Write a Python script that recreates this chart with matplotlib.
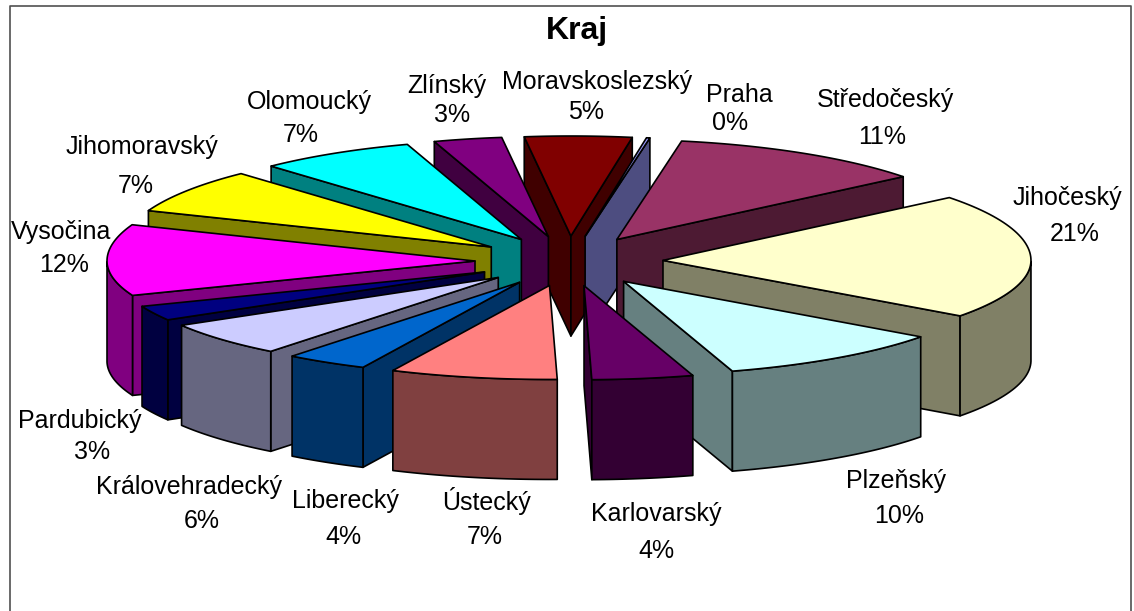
import numpy as np
import matplotlib
matplotlib.use("Agg")
import matplotlib.pyplot as plt
from matplotlib.colors import to_rgb
from matplotlib.patches import Polygon

plt.rcParams["font.family"] = ["Liberation Sans", "DejaVu Sans"]

# data, clockwise from the top of the pie
regions = ["Praha", "Středočeský", "Jihočeský", "Plzeňský", "Karlovarský", "Ústecký", "Liberecký",
           "Královehradecký", "Pardubický", "Vysočina", "Jihomoravský", "Olomoucký", "Zlínský",
           "Moravskoslezský"]
shares = [0.15, 11.4, 20.9, 10.2, 4.45, 7.35, 3.62, 5.9, 2.55, 11.9, 7.2, 6.9, 3.0, 4.7]
colors = ["#9999FF", "#993366", "#FFFFCC", "#CCFFFF", "#660066", "#FF8080", "#0066CC",
          "#CCCCFF", "#000080", "#FF00FF", "#FFFF00", "#00FFFF", "#800080", "#800000"]

# label anchors in pixels, name and percentage are placed apart
name_xy = [(739, 95), (885, 100), (1067, 198), (896, 481), (656, 514), (487, 501), (345, 501),
           (189, 487), (80, 421), (61, 232), (142, 147), (309, 102), (447, 86), (597, 82)]
pct_xy = [(730, 123), (882, 137), (1075, 234), (899, 516), (656, 551), (485, 537), (343, 537),
          (202, 521), (92, 452), (64, 265), (136, 186), (301, 135), (452, 115), (586, 112)]

# pie geometry in pixels
cx, cy = 569, 261
rx, ry_back, ry_front = 368, 100, 94
explode_x, explode_y = 94, 25
depth = 100
start = 9.6

fig = plt.figure(figsize=(11.34, 6.11), dpi=100)
ax = fig.add_axes([0, 0, 1, 1])
ax.set_xlim(0, 1134)
ax.set_ylim(611, 0)
ax.axis("off")


def rim(ox, oy, deg):
    a = np.radians(deg)
    ry = ry_back if np.cos(a) > 0 else ry_front
    return ox + rx * np.sin(a), oy - ry * np.cos(a)


def side_color(c):
    return tuple(v * 0.5 for v in to_rgb(c))


def draw_slice(t0, t1, col):
    mid = np.radians((t0 + t1) / 2)
    ox = cx + explode_x * np.sin(mid)
    oy = cy - explode_y * np.cos(mid)
    angs = np.linspace(t0, t1, 60)
    arc = np.array([rim(ox, oy, a) for a in angs])
    side = side_color(col)

    # radial cut faces, only those turned to the viewer
    for p, inner in ((arc[0], arc[-1]), (arc[-1], arc[0])):
        ex, ey = p[0] - ox, p[1] - oy
        nx, ny = -ey, ex
        if nx * (inner[0] - ox) + ny * (inner[1] - oy) > 0:
            nx, ny = -nx, -ny
        if ny > 0:
            face = [(ox, oy), p, (p[0], p[1] + depth), (ox, oy + depth)]
            ax.add_patch(Polygon(face, fc=side, ec="black", lw=1.2, joinstyle="round"))

    # outer wall, front half only
    a = np.mod(angs, 360)
    front = (a >= 90) & (a <= 270)
    if front.any():
        w = arc[front]
        wall = np.vstack([w, (w + [0, depth])[::-1]])
        ax.add_patch(Polygon(wall, fc=side, ec="black", lw=1.2, joinstyle="round"))

    top = np.vstack([[ox, oy], arc])
    ax.add_patch(Polygon(top, fc=col, ec="black", lw=1.2, joinstyle="round"))


vals = np.array(shares)
edges = start + np.concatenate([[0], np.cumsum(vals)]) * 360 / vals.sum()
mids = (edges[:-1] + edges[1:]) / 2

# back slices first
for i in np.argsort(-np.cos(np.radians(mids))):
    draw_slice(edges[i], edges[i + 1], colors[i])

for name, v, nxy, pxy in zip(regions, shares, name_xy, pct_xy):
    ax.text(nxy[0], nxy[1], name, ha="center", va="center", fontsize=18, color="black")
    ax.text(pxy[0], pxy[1], f"{round(v)}%", ha="center", va="center", fontsize=18, color="black")

ax.text(577, 31, "Kraj", ha="center", va="center", fontsize=23, fontweight="bold")

# chart frame, runs off the bottom of the image
ax.plot([10, 10, 1131, 1131], [611, 6, 6, 611], color="#505050", lw=1.2)

fig.savefig("out.png", dpi=100)
